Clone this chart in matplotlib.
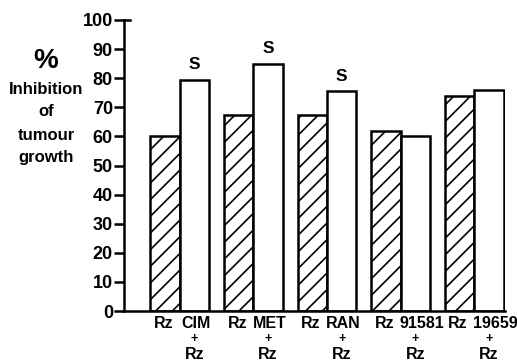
import matplotlib
matplotlib.use('Agg')
import matplotlib.pyplot as plt
import numpy as np

# Data
drugs = ['CIM', 'MET', 'RAN', '91581', '19659']
rz_alone = [60, 67.5, 67.5, 62, 74]
rz_combo = [79.5, 85, 75.5, 60, 76]
significant = [True, True, True, False, False]
yticks = [0, 10, 20, 30, 40, 50, 60, 70, 80, 90, 100]

plt.rcParams['font.family'] = ['Liberation Sans', 'DejaVu Sans']
plt.rcParams['font.weight'] = 'bold'
plt.rcParams['hatch.linewidth'] = 1.2

fig = plt.figure(figsize=(5.17, 3.61), dpi=100)
ax = fig.add_axes([124 / 517, 50 / 361, 381 / 517, 291 / 361])

x = np.arange(len(drugs))
w = 0.4
ax.bar(x - w / 2, rz_alone, w, facecolor='white', edgecolor='black',
       linewidth=1.8, hatch='//')
ax.bar(x + w / 2, rz_combo, w, facecolor='white', edgecolor='black',
       linewidth=1.8)

for xi, v, s in zip(x, rz_combo, significant):
    if s:
        ax.text(xi + w / 2, v + 2.5, 'S', ha='center', va='bottom',
                fontsize=12.5, fontweight='bold')

ax.set_xlim(-0.76, 4.42)
ax.set_ylim(0, 100)
ax.set_yticks(yticks)
ax.set_yticklabels([str(t) for t in yticks], fontsize=13, fontweight='bold')
ax.tick_params(axis='y', direction='out', length=7, width=1.8, pad=1)
# short stub to the right at the top of the axis
ax.axhline(yticks[-1], xmin=0, xmax=0.015, color='black', lw=1.8, clip_on=False)

ax.set_xticks([])
for xi, d in zip(x, drugs):
    shift = 0.09 if len(d) > 3 else 0.02
    ax.text(xi - w / 2 - 0.02, -1.8, 'Rz', ha='center', va='top',
            fontsize=11.5, fontweight='bold')
    ax.text(xi + w / 2 + shift, -1.8, d, ha='center', va='top',
            fontsize=11.5, fontweight='bold')
    ax.text(xi + w / 2, -9.6, '+', ha='center', va='center',
            fontsize=9, fontweight='bold')
    ax.text(xi + w / 2, -12.2, 'Rz', ha='center', va='top',
            fontsize=11.5, fontweight='bold')

for sp in ['top', 'right']:
    ax.spines[sp].set_visible(False)
for sp in ['left', 'bottom']:
    ax.spines[sp].set_linewidth(1.8)

# y-axis label, stacked lines
fig.text(46 / 517, 1 - 61 / 361, '%', ha='center', va='center',
         fontsize=20, fontweight='bold')
for txt, yy in [('Inhibition', 89), ('of', 112), ('tumour', 135), ('growth', 157)]:
    fig.text(46 / 517, 1 - yy / 361, txt, ha='center', va='center',
             fontsize=12, fontweight='bold')

fig.savefig('out.png', dpi=100)
